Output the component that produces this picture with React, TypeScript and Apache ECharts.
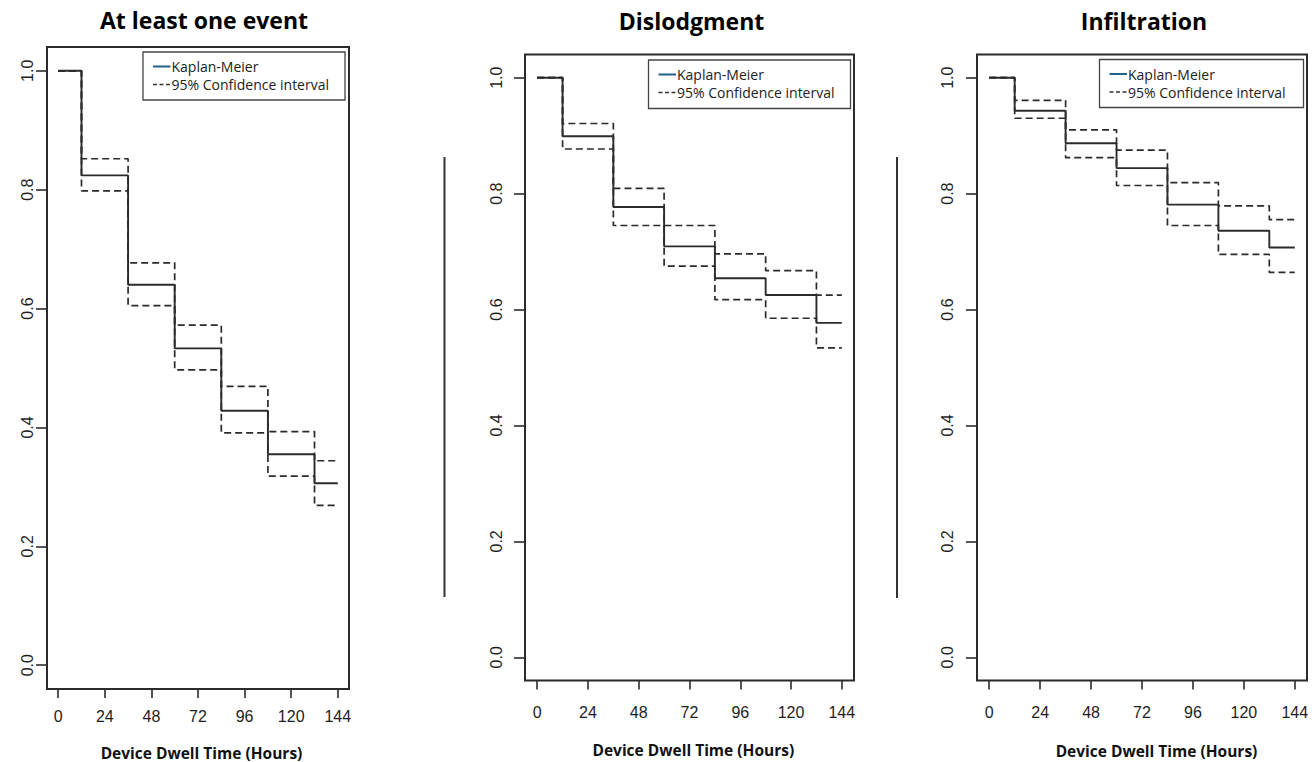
import React, { useEffect, useRef } from "react";
import * as echarts from "echarts";

// ---- data ----
const stepTimes = [0, 12, 36, 60, 84, 108, 132];
const endTime = 144;
const xTicks = [0, 24, 48, 72, 96, 120, 144];
const yTicks = [0, 0.2, 0.4, 0.6, 0.8, 1.0];

const panelTitles = ["At least one event", "Dislodgment", "Infiltration"];
const xAxisTitle = "Device Dwell Time (Hours)";
const legendLabels = ["Kaplan-Meier", "95% Confidence interval"];

const eventKM = [1.0, 0.824, 0.64, 0.533, 0.428, 0.355, 0.306];
const eventUpper = [1.0, 0.852, 0.677, 0.572, 0.469, 0.393, 0.344];
const eventLower = [1.0, 0.798, 0.605, 0.497, 0.391, 0.318, 0.269];

const dislodgKM = [1.0, 0.899, 0.777, 0.709, 0.654, 0.625, 0.577];
const dislodgUpper = [1.0, 0.921, 0.809, 0.745, 0.696, 0.667, 0.625];
const dislodgLower = [1.0, 0.877, 0.745, 0.675, 0.617, 0.585, 0.534];

const infiltKM = [1.0, 0.943, 0.887, 0.844, 0.781, 0.736, 0.707];
const infiltUpper = [1.0, 0.961, 0.91, 0.875, 0.819, 0.779, 0.755];
const infiltLower = [1.0, 0.93, 0.862, 0.814, 0.745, 0.695, 0.664];

const panelSeries = [
  [eventKM, eventUpper, eventLower],
  [dislodgKM, dislodgUpper, dislodgLower],
  [infiltKM, infiltUpper, infiltLower],
];

// ---- layout (pixels) ----
const grids = [
  { left: 47, top: 47, width: 302, height: 642 },
  { left: 525, top: 54.5, width: 329, height: 626 },
  { left: 977, top: 54.5, width: 330, height: 626 },
];
const yLabelMargins = [12, 21, 21.5];
const xLabelMargins = [19, 24, 24];
const titlePos = [
  [204, 19.5],
  [691.5, 21],
  [1144, 21],
];
const xTitlePos = [
  [201.5, 752.5],
  [693.3, 749.7],
  [1156.5, 750.7],
];
const legendBoxes = [
  { x: 143, y: 52, w: 202, h: 48 },
  { x: 648.5, y: 60, w: 202, h: 48.5 },
  { x: 1099.5, y: 59.5, w: 204, h: 48 },
];
const separators = [
  [444.5, 157, 597],
  [897, 157, 598],
];

const INK = "#2b2b2b";

function stepData(values: number[]) {
  const pts = stepTimes.map((t, i) => [t, values[i]]);
  pts.push([endTime, values[values.length - 1]]);
  return pts;
}

export default function App() {
  const ref = useRef<HTMLDivElement>(null);

  useEffect(() => {
    if (!ref.current) return;
    const chart = echarts.init(ref.current, undefined, { renderer: "svg" });

    const xAxis = grids.map((_, i) => ({
      type: "value",
      gridIndex: i,
      position: "bottom",
      min: -5.76,
      max: 149.76,
      axisLine: { show: false, onZero: false },
      splitLine: { show: false },
      axisTick: {
        show: true,
        inside: false,
        length: 9,
        customValues: xTicks,
        lineStyle: { color: INK, width: 1.6 },
      },
      axisLabel: {
        show: true,
        customValues: xTicks,
        margin: xLabelMargins[i],
        fontFamily: "Liberation Sans",
        fontSize: 16,
        color: "#1e1e1e",
        formatter: (v: number) => String(Math.round(v)),
      },
    }));

    const yAxis = grids.map((_, i) => ({
      type: "value",
      gridIndex: i,
      position: "left",
      min: -0.04,
      max: 1.04,
      axisLine: { show: false, onZero: false },
      splitLine: { show: false },
      axisTick: {
        show: true,
        inside: false,
        length: 11,
        customValues: yTicks,
        lineStyle: { color: INK, width: 1.6 },
      },
      axisLabel: {
        show: true,
        customValues: yTicks,
        rotate: 90,
        margin: yLabelMargins[i],
        fontFamily: "Liberation Sans",
        fontSize: 16,
        color: "#1e1e1e",
        formatter: (v: number) => v.toFixed(1),
      },
    }));

    const series: any[] = [];
    panelSeries.forEach((arr, i) => {
      const [km, up, lo] = arr;
      series.push({
        type: "line",
        name: legendLabels[0],
        xAxisIndex: i,
        yAxisIndex: i,
        step: "end",
        symbol: "none",
        silent: true,
        z: 3,
        lineStyle: { color: INK, width: 1.9, type: "solid" },
        data: stepData(km),
      });
      [up, lo].forEach((ci) => {
        series.push({
          type: "line",
          name: legendLabels[1],
          xAxisIndex: i,
          yAxisIndex: i,
          step: "end",
          symbol: "none",
          silent: true,
          z: 2,
          lineStyle: { color: INK, width: 1.7, type: [7, 4] },
          data: stepData(ci),
        });
      });
    });

    const graphic: any[] = [];
    panelTitles.forEach((t, i) => {
      graphic.push({
        type: "text",
        x: titlePos[i][0],
        y: titlePos[i][1],
        style: {
          text: t,
          font: "700 23px 'Open Sans'",
          fill: "#000",
          align: "center",
          verticalAlign: "middle",
        },
      });
      graphic.push({
        type: "text",
        x: xTitlePos[i][0],
        y: xTitlePos[i][1],
        style: {
          text: xAxisTitle,
          font: "700 15.5px 'Open Sans'",
          fill: "#111",
          align: "center",
          verticalAlign: "middle",
        },
      });
      const b = legendBoxes[i];
      graphic.push({
        type: "rect",
        shape: { x: b.x, y: b.y, width: b.w, height: b.h },
        style: { fill: "#fff", stroke: "#444", lineWidth: 1.3 },
        z: 10,
      });
      const y1 = b.y + 14.5;
      const y2 = b.y + 32.5;
      const lx = b.x + 10;
      graphic.push({
        type: "line",
        shape: { x1: lx, y1: y1, x2: lx + 17.5, y2: y1 },
        style: { stroke: "#23608a", lineWidth: 2 },
        z: 11,
      });
      graphic.push({
        type: "line",
        shape: { x1: lx, y1: y2, x2: lx + 17.5, y2: y2 },
        style: { stroke: "#333", lineWidth: 1.3, lineDash: [4, 2.5] },
        z: 11,
      });
      graphic.push({
        type: "text",
        x: lx + 18.5,
        y: y1,
        style: {
          text: legendLabels[0],
          font: "14px 'Open Sans'",
          fill: "#222",
          align: "left",
          verticalAlign: "middle",
        },
        z: 11,
      });
      graphic.push({
        type: "text",
        x: lx + 18.5,
        y: y2,
        style: {
          text: legendLabels[1],
          font: "14px 'Open Sans'",
          fill: "#222",
          align: "left",
          verticalAlign: "middle",
        },
        z: 11,
      });
    });
    separators.forEach(([x, ya, yb]) => {
      graphic.push({
        type: "line",
        shape: { x1: x, y1: ya, x2: x, y2: yb },
        style: { stroke: "#333", lineWidth: 2 },
      });
    });

    chart.setOption({
      animation: false,
      backgroundColor: "#fff",
      grid: grids.map((g) => ({
        left: g.left,
        top: g.top,
        width: g.width,
        height: g.height,
        show: true,
        borderColor: INK,
        borderWidth: 2,
        backgroundColor: "transparent",
        containLabel: false,
      })),
      xAxis,
      yAxis,
      series,
      graphic,
    });

    return () => chart.dispose();
  }, []);

  return (
    <div
      ref={ref}
      style={{ position: "absolute", left: 0, top: 0, width: 1316, height: 762 }}
    />
  );
}
